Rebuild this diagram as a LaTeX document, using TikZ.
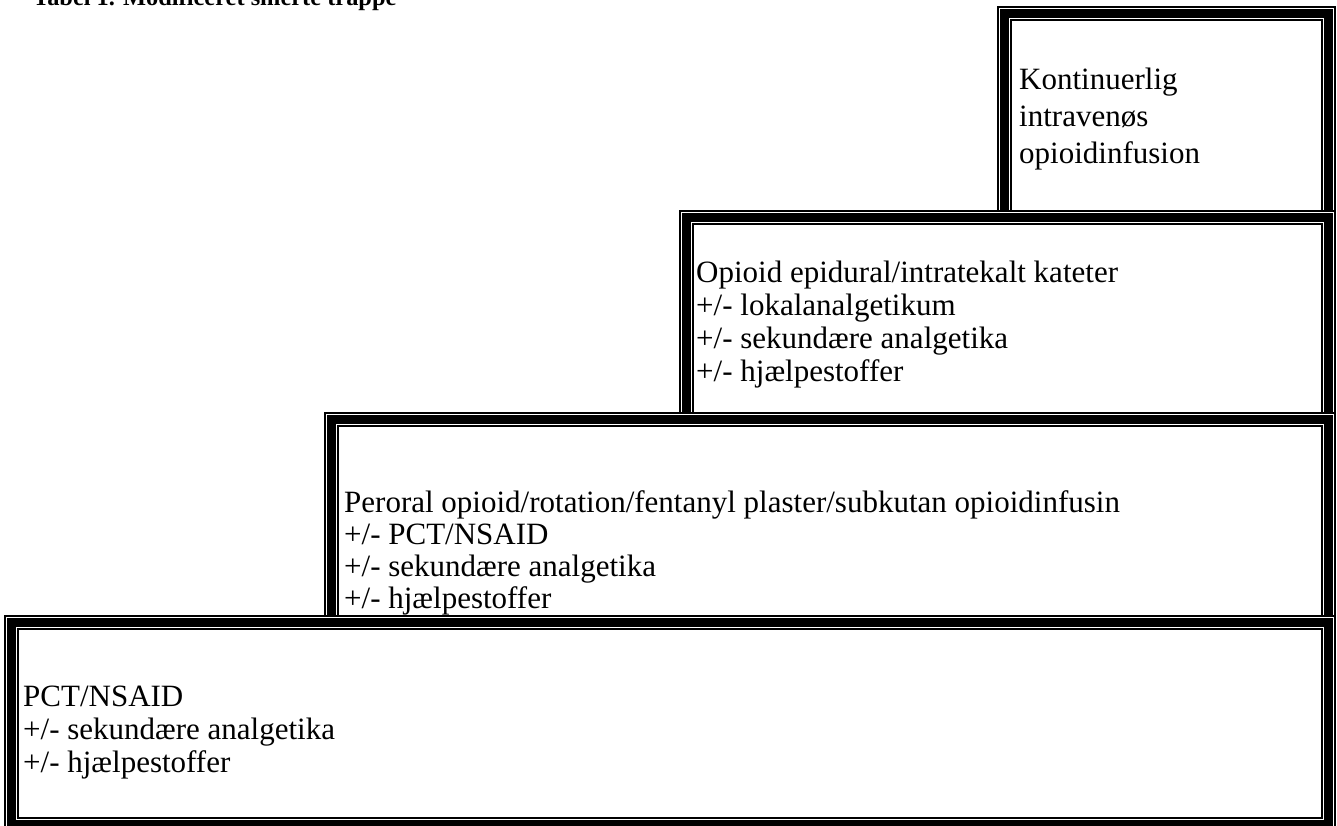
\documentclass[tikz,border=0pt]{standalone}
\usepackage{fontspec}
\setmainfont{Liberation Serif}
\usetikzlibrary{positioning}

\tikzset{
  tynd/.style={line width=1.5pt},
  tyk/.style={line width=9pt},
  tekst/.style={anchor=base west, align=left, inner sep=0pt, font=\fontsize{31}{33}\selectfont}
}

% ramme med aaben bund: #1 venstre x, #2 top y, #3 bund y
\newcommand{\trinramme}[3]{%
  \fill[white] (#1,#2) rectangle (1335,#3);
  \draw[tynd] (#1,#3) |- (1335,#2) -- (1335,#3);
  \draw[tyk] (#1+6.5,#3) |- (1328.5,#2+6.5) -- (1328.5,#3);
  \draw[tynd] (#1+13,#3) |- (1322,#2+13) -- (1322,#3);
}

\begin{document}
\begin{tikzpicture}[x=1pt, y=-1pt]
    \useasboundingbox (0,0) rectangle (1337,825);

    % Overskrift (skaaret af i toppen)
    \node[anchor=base west, inner sep=0pt, font=\fontsize{24.4}{28}\selectfont\bfseries] (titel) at (33,5) {Tabel 1. Modificeret smerte trappe};

    % Trinene, oppefra og ned
    \trinramme{998}{7}{211}
    \trinramme{680}{211}{413}
    \trinramme{325}{413}{616}

    % Nederste trin, lukket ramme
    \fill[white] (5,616) rectangle (1335,831);
    \draw[tynd] (5,616) rectangle (1335,831);
    \draw[tyk] (11.5,622.5) rectangle (1328.5,824.5);
    \draw[tynd] (18,629) rectangle (1322,818);

    % Tekster (placeret ved sidste linjes grundlinje)
    \node[tekst, font=\fontsize{31}{37}\selectfont] (trin4) at (1019,163)
        {Kontinuerlig\\intravenøs\\opioidinfusion};
    \node[tekst] (trin3) at (696,381)
        {Opioid epidural/intratekalt kateter\\+/- lokalanalgetikum\\+/- sekundære analgetika\\+/- hjælpestoffer};
    \node[tekst, font=\fontsize{31}{32}\selectfont] (trin2) at (344,608)
        {Peroral opioid/rotation/fentanyl plaster/subkutan opioidinfusin\\+/- PCT/NSAID\\+/- sekundære analgetika\\+/- hjælpestoffer};
    \node[tekst] (trin1) at (23,772)
        {PCT/NSAID\\+/- sekundære analgetika\\+/- hjælpestoffer};
\end{tikzpicture}
\end{document}
